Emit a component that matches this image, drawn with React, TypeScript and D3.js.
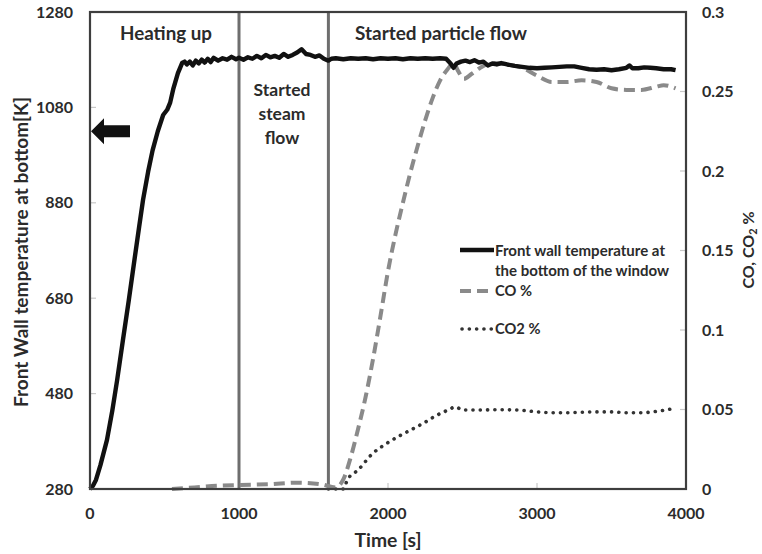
import React from "react";
import * as d3 from "d3";

const tempSeries: [number, number][] = [
  [0, 280], [20, 287], [40, 299], [70, 330], [114, 383], [150, 445], [182, 508], [220, 590],
  [260, 675], [300, 764], [330, 830], [356, 886], [390, 945], [420, 990], [455, 1030], [491, 1064],
  [518, 1075], [538, 1090], [560, 1120], [590, 1152], [618, 1173], [635, 1176],
  [650, 1170], [670, 1176], [690, 1168], [710, 1178], [730, 1172], [750, 1180], [770, 1174], [790, 1182],
  [810, 1175], [830, 1184], [860, 1178], [890, 1183], [920, 1180], [950, 1186], [980, 1181], [1000, 1184],
  [1030, 1180], [1060, 1185], [1090, 1182], [1120, 1188], [1150, 1183], [1180, 1190], [1210, 1185],
  [1240, 1188], [1270, 1184], [1300, 1192], [1330, 1186], [1360, 1190], [1390, 1195], [1420, 1202],
  [1450, 1192], [1480, 1190], [1510, 1186], [1540, 1189], [1570, 1182], [1600, 1178], [1620, 1182],
  [1650, 1183], [1700, 1181], [1750, 1183], [1800, 1182], [1850, 1183], [1900, 1181], [1950, 1183],
  [2000, 1182], [2050, 1183], [2100, 1181], [2150, 1183], [2200, 1182], [2250, 1183], [2300, 1182],
  [2350, 1183], [2390, 1182], [2420, 1172], [2440, 1163], [2460, 1172], [2490, 1176], [2520, 1178],
  [2550, 1175], [2580, 1179], [2610, 1174], [2640, 1176], [2670, 1168], [2700, 1172], [2730, 1170],
  [2760, 1173], [2800, 1170], [2850, 1167], [2900, 1165], [2950, 1163], [3000, 1162], [3050, 1163],
  [3100, 1164], [3150, 1165], [3200, 1166], [3250, 1166], [3300, 1163], [3350, 1160], [3400, 1159],
  [3450, 1160], [3500, 1158], [3550, 1160], [3600, 1163], [3620, 1168], [3640, 1162], [3680, 1162],
  [3720, 1164], [3760, 1163], [3800, 1162], [3850, 1160], [3900, 1160], [3930, 1158],
];

const coSeries: [number, number][] = [
  [550, 0], [700, 0.001], [850, 0.002], [1000, 0.0025], [1200, 0.003], [1400, 0.004], [1550, 0.003],
  [1650, 0.001], [1700, 0.006], [1750, 0.02], [1800, 0.038], [1850, 0.058], [1900, 0.082], [1950, 0.109],
  [2000, 0.137], [2050, 0.16], [2100, 0.18], [2150, 0.199], [2200, 0.216], [2250, 0.232], [2300, 0.246],
  [2350, 0.257], [2400, 0.264], [2440, 0.268], [2470, 0.263], [2510, 0.258], [2560, 0.261], [2620, 0.265],
  [2700, 0.268], [2800, 0.267], [2900, 0.265], [3000, 0.26], [3100, 0.256], [3200, 0.256], [3300, 0.257],
  [3400, 0.256], [3500, 0.252], [3600, 0.251], [3700, 0.251], [3800, 0.253], [3850, 0.254], [3930, 0.252],
];

const co2Series: [number, number][] = [
  [1600, 0], [1700, 0], [1727, 0.0057], [1800, 0.012], [1900, 0.0226], [1980, 0.028], [2063, 0.0327],
  [2150, 0.037], [2240, 0.0415], [2320, 0.046], [2400, 0.0495], [2454, 0.0516],
  [2500, 0.0497], [2600, 0.0497], [2700, 0.0498], [2800, 0.0498], [2900, 0.0495], [3000, 0.0485],
  [3100, 0.048], [3200, 0.048], [3300, 0.0483], [3400, 0.0485], [3500, 0.0485], [3600, 0.048],
  [3700, 0.048], [3800, 0.0488], [3900, 0.0503],
];

const xTicks = [0, 1000, 2000, 3000, 4000];
const leftTicks = [280, 480, 680, 880, 1080, 1280];
const rightTicks = [0, 0.05, 0.1, 0.15, 0.2, 0.25, 0.3];
const rightTickLabels = ["0", "0.05", "0.1", "0.15", "0.2", "0.25", "0.3"];
const phaseLines = [1000, 1600];

const FONT = "Lato, 'Open Sans', sans-serif";
const TXT = "#2b2b2b";

export default function App() {
  const L = 90, R = 686, T = 12, B = 489;
  const x = d3.scaleLinear().domain([0, 4000]).range([L, R]);
  const yT = d3.scaleLinear().domain([280, 1280]).range([B, T]);
  const yC = d3.scaleLinear().domain([0, 0.3]).range([B, T]);

  const tempLine = d3.line<[number, number]>().x(d => x(d[0])).y(d => yT(d[1]));
  const coLine = d3.line<[number, number]>().x(d => x(d[0])).y(d => yC(d[1])).curve(d3.curveMonotoneX);

  const arrowY = yT(1030);

  return (
    <div style={{ position: "absolute", left: 0, top: 0 }}>
      <svg width={762} height={554} style={{ display: "block", background: "#fff" }} fontFamily={FONT}>
        {/* ticks */}
        {leftTicks.slice(1, -1).map(t => (
          <line key={"lt" + t} x1={L} x2={L + 6} y1={yT(t)} y2={yT(t)} stroke="#c8c8c8" strokeWidth={1.2} />
        ))}
        {rightTicks.slice(1, -1).map(t => (
          <line key={"rt" + t} x1={R - 6} x2={R} y1={yC(t)} y2={yC(t)} stroke="#c8c8c8" strokeWidth={1.2} />
        ))}
        {xTicks.slice(1, -1).map(t => (
          <line key={"xt" + t} x1={x(t)} x2={x(t)} y1={B} y2={B - 6} stroke="#c8c8c8" strokeWidth={1.2} />
        ))}

        {/* phase lines */}
        {phaseLines.map(p => (
          <line key={"p" + p} x1={x(p)} x2={x(p)} y1={T} y2={B} stroke="#6e6e6e" strokeWidth={3} />
        ))}

        {/* series */}
        <path d={coLine(co2Series) || ""} fill="none" stroke="#333" strokeWidth={3.6}
          strokeDasharray="0.1,7.2" strokeLinecap="round" />
        <path d={coLine(coSeries) || ""} fill="none" stroke="#8a8a8a" strokeWidth={4}
          strokeDasharray="11,6" />
        <path d={tempLine(tempSeries) || ""} fill="none" stroke="#111" strokeWidth={4.4}
          strokeLinejoin="round" />

        {/* frame */}
        <rect x={L} y={T} width={R - L} height={B - T} fill="none" stroke="#3e3e3e" strokeWidth={2.2} />

        {/* arrow */}
        <path
          d={`M${L + 1},${arrowY} L${L + 14},${arrowY - 13} L${L + 14},${arrowY - 6} L${L + 40},${arrowY - 6} L${L + 40},${arrowY + 6} L${L + 14},${arrowY + 6} L${L + 14},${arrowY + 13} Z`}
          fill="#111"
        />

        {/* left tick labels */}
        {leftTicks.map(t => (
          <text key={"ll" + t} x={73} y={yT(t)} dy="0.35em" textAnchor="end" fontSize={16} fontWeight={700} fill={TXT}>
            {t}
          </text>
        ))}
        {/* right tick labels */}
        {rightTicks.map((t, i) => (
          <text key={"rl" + t} x={702} y={yC(t)} dy="0.35em" textAnchor="start" fontSize={16} fontWeight={700} fill={TXT}>
            {rightTickLabels[i]}
          </text>
        ))}
        {/* x tick labels */}
        {xTicks.map(t => (
          <text key={"xl" + t} x={x(t)} y={513.5} dy="0.35em" textAnchor="middle" fontSize={16} fontWeight={700} fill={TXT}>
            {t}
          </text>
        ))}

        {/* axis titles */}
        <text x={388} y={540} dy="0.35em" textAnchor="middle" fontSize={19} fontWeight={700} fill={TXT}
          textLength={67} lengthAdjust="spacingAndGlyphs">Time [s]</text>
        <text transform="translate(22,252) rotate(-90)" dy="0.35em" textAnchor="middle" fontSize={18} fontWeight={700} fill={TXT}
          textLength={310} lengthAdjust="spacingAndGlyphs">
          Front Wall temperature at bottom[K]
        </text>
        <text transform="translate(748,250) rotate(-90)" dy="0.35em" textAnchor="middle" fontSize={16} fontWeight={700} fill={TXT}>
          CO, CO<tspan fontSize={11} dy="3.5">2</tspan><tspan dy="-3.5"> %</tspan>
        </text>

        {/* phase annotations */}
        <text x={120} y={40} fontSize={18} fontWeight={700} fill={TXT} textLength={92} lengthAdjust="spacingAndGlyphs">Heating up</text>
        <text x={282} y={96} textAnchor="middle" fontSize={17.5} fontWeight={700} fill={TXT}>Started</text>
        <text x={282} y={120} textAnchor="middle" fontSize={17.5} fontWeight={700} fill={TXT}>steam</text>
        <text x={282} y={144} textAnchor="middle" fontSize={17.5} fontWeight={700} fill={TXT}>flow</text>
        <text x={355} y={40} fontSize={18} fontWeight={700} fill={TXT} textLength={172} lengthAdjust="spacingAndGlyphs">Started particle flow</text>

        {/* legend */}
        <line x1={460} x2={494} y1={250} y2={250} stroke="#111" strokeWidth={4.4} />
        <text x={495} y={251} dy="0.35em" fontSize={14.7} fontWeight={700} fill={TXT} textLength={170} lengthAdjust="spacingAndGlyphs">Front wall temperature at</text>
        <text x={495} y={271} dy="0.35em" fontSize={14.7} fontWeight={700} fill={TXT} textLength={174} lengthAdjust="spacingAndGlyphs">the bottom of the window</text>
        <line x1={460} x2={494} y1={291} y2={291} stroke="#8a8a8a" strokeWidth={4} strokeDasharray="11,6" />
        <text x={495} y={291} dy="0.35em" fontSize={14.7} fontWeight={700} fill={TXT}>CO %</text>
        <line x1={462} x2={494} y1={329} y2={329} stroke="#333" strokeWidth={3.6} strokeDasharray="0.1,7.2" strokeLinecap="round" />
        <text x={495} y={329} dy="0.35em" fontSize={14.7} fontWeight={700} fill={TXT}>CO2 %</text>
      </svg>
    </div>
  );
}
